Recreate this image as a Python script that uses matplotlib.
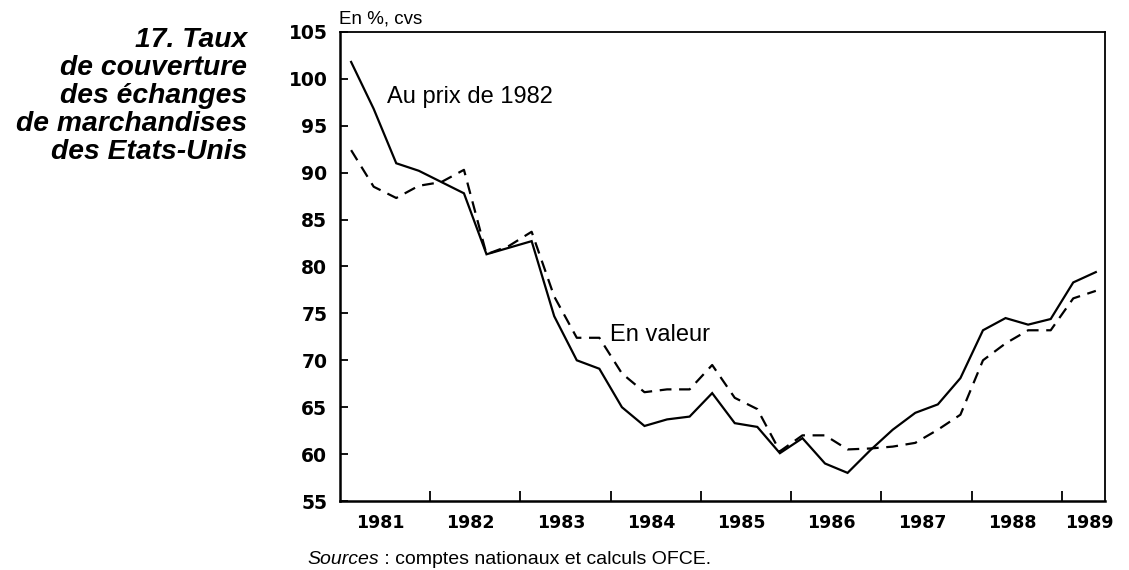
import numpy as np
import matplotlib
matplotlib.use("Agg")
import matplotlib.pyplot as plt

# Quarterly data 1981Q1 .. 1989Q2
start_year = 1981
n_quarters = 34
au_prix_1982 = [101.8, 96.8, 91.0, 90.2, 89.0, 87.8, 81.3, 82.0, 82.7, 74.7,
                70.0, 69.1, 65.0, 63.0, 63.7, 64.0, 66.5, 63.3, 62.9, 60.1,
                61.7, 59.0, 58.0, 60.4, 62.6, 64.4, 65.3, 68.1, 73.2, 74.5,
                73.8, 74.4, 78.3, 79.4]
en_valeur = [92.4, 88.5, 87.3, 88.6, 89.0, 90.3, 81.3, 82.2, 83.7, 76.8,
             72.4, 72.4, 68.6, 66.6, 66.9, 66.9, 69.5, 66.0, 64.8, 60.3,
             62.0, 62.0, 60.5, 60.6, 60.8, 61.2, 62.6, 64.2, 70.0, 71.8,
             73.2, 73.2, 76.6, 77.4]
years = list(range(1981, 1990))
year_labels = [str(y) for y in years]
y_ticks = list(range(55, 106, 5))

x = start_year + (np.arange(n_quarters) + 0.5) / 4.0

plt.rcParams['lines.scale_dashes'] = False
fig = plt.figure(figsize=(11.29, 5.70), dpi=100)
ax = fig.add_axes([0.301, 0.121, 0.678, 0.823])

ax.plot(x, au_prix_1982, color='black', lw=1.6, solid_joinstyle='miter')
ax.plot(x, en_valeur, color='black', lw=1.6, dashes=(8.5, 5.5))

ax.set_xlim(1981.0, 1989.48)
ax.set_ylim(55, 105)

for s in ['left', 'bottom']:
    ax.spines[s].set_linewidth(1.8)
for s in ['top', 'right']:
    ax.spines[s].set_linewidth(1.3)

ax.set_yticks(y_ticks)
ax.set_yticklabels([str(v) for v in y_ticks], fontsize=13.5, fontweight='bold')
ax.tick_params(axis='y', direction='in', length=6, width=1.3, pad=9)

# year boundaries as minor ticks, labels centred in the years
ax.set_xticks(years[1:], minor=True)
lab_pos = [y + 0.45 for y in years[:-1]] + [years[-1] + 0.3]
ax.set_xticks(lab_pos)
ax.set_xticklabels(year_labels, fontsize=12.5, fontweight='bold')
ax.tick_params(axis='x', which='major', length=0, pad=9)
ax.tick_params(axis='x', which='minor', direction='in', length=7, width=1.3)

ax.text(1981.52, 98.1, "Au prix de 1982", fontsize=17, family='Liberation Sans',
        ha='left', va='center')
ax.text(1983.99, 72.7, "En valeur", fontsize=17, family='Liberation Sans',
        ha='left', va='center')

fig.text(0.3, 1 - 23/570, "En %, cvs", fontsize=13.5, family='Liberation Sans',
         ha='left', va='baseline')

fig.text(0.219, 1 - 27/570,
         "17. Taux\nde couverture\ndes échanges\nde marchandises\ndes Etats-Unis",
         fontsize=20.3, family='Liberation Sans', style='italic', fontweight='bold',
         ha='right', va='top', multialignment='right', linespacing=1.1)

t1 = fig.text(307/1129, 1 - 559/570, "Sources", fontsize=14,
              family='Liberation Sans', style='italic', ha='left', va='center')
ax.annotate(" : comptes nationaux et calculs OFCE.", xy=(1, 0.5), xycoords=t1,
            fontsize=14, family='Liberation Sans', ha='left', va='center',
            annotation_clip=False)

fig.savefig("out.png", dpi=100)
